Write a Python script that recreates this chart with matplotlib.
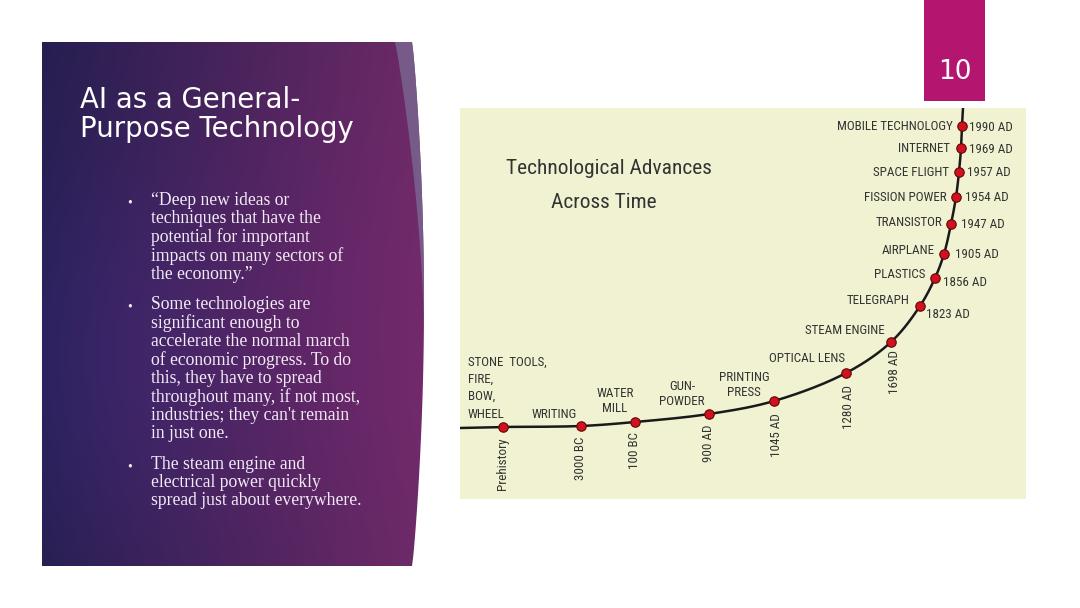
import numpy as np
import matplotlib
matplotlib.use("Agg")
import matplotlib.pyplot as plt
from matplotlib import font_manager as fm
from matplotlib.patches import Rectangle, PathPatch, Polygon
from matplotlib.path import Path

# ---------------- data ----------------
events = ["STONE  TOOLS,\nFIRE,\nBOW,\nWHEEL", "WRITING", "WATER\nMILL", "GUN-\nPOWDER",
          "PRINTING\nPRESS", "OPTICAL LENS", "STEAM ENGINE", "TELEGRAPH", "PLASTICS",
          "AIRPLANE", "TRANSISTOR", "FISSION POWER", "SPACE FLIGHT", "INTERNET",
          "MOBILE TECHNOLOGY"]
eras = ["Prehistory", "3000 BC", "100 BC", "900 AD", "1045 AD", "1280 AD", "1698 AD",
        "1823 AD", "1856 AD", "1905 AD", "1947 AD", "1954 AD", "1957 AD", "1969 AD", "1990 AD"]
# position along the time axis (chart units) and level of advancement (chart units)
time_pos = [43, 121, 175, 249, 314, 386, 431, 460, 475, 484, 491, 496, 499, 501, 502]
advance = [72, 73, 77, 85, 98, 126, 157, 193, 221, 245, 275, 302, 327, 351, 373]
curve_start = (0, 71)
curve_end = (503, 391)

chart_title = "Technological Advances"
chart_subtitle = "Across Time"
slide_title = ["AI as a General-", "Purpose Technology"]
bullets = [
    "\u201cDeep new ideas or\ntechniques that have the\npotential for important\nimpacts on many sectors of\nthe economy.\u201d",
    "Some technologies are\nsignificant enough to\naccelerate the normal march\nof economic progress. To do\nthis, they have to spread\nthroughout many, if not most,\nindustries; they can't remain\nin just one.",
    "The steam engine and\nelectrical power quickly\nspread just about everywhere.",
]
slide_number = "10"

# ---------------- fonts ----------------
ttf = fm.fontManager.ttflist
names = {f.name for f in ttf}
narrow_kw = None
for cand in ["Liberation Sans Narrow", "Arial Narrow", "Roboto Condensed",
             "Open Sans Condensed", "DejaVu Sans Condensed"]:
    if cand in names:
        narrow_kw = dict(family=[cand, "DejaVu Sans"])
        narrow_scale = 1.0
        break
if narrow_kw is None:
    cond = [f for f in ttf if f.name == "DejaVu Sans" and str(f.stretch) in ("condensed", "semi-condensed")]
    if cond:
        narrow_kw = dict(family=["DejaVu Sans"], fontstretch="condensed")
        narrow_scale = 0.93
    else:
        narrow_kw = dict(family=["Liberation Sans", "DejaVu Sans"])
        narrow_scale = 0.86

serif = ["Liberation Serif", "DejaVu Serif"]
title_kw = dict(family=["DejaVu Sans"])

# ---------------- figure ----------------
W, H = 1080, 608
fig = plt.figure(figsize=(W / 100, H / 100), dpi=100)
fig.patch.set_facecolor("white")
bg = fig.add_axes([0, 0, 1, 1])
bg.set_xlim(0, W)
bg.set_ylim(H, 0)
bg.set_axis_off()

# left purple panel with curved right edge
top, bot, left = 42, 566, 42
ys = np.linspace(top, bot, 60)
t = (ys - top) / (bot - top)
xr = 412 + 12 * np.sin(np.pi * t) ** 0.8
verts = [(left, top)] + list(zip(xr, ys)) + [(left, bot), (left, top)]
codes = [Path.MOVETO] + [Path.LINETO] * (len(verts) - 2) + [Path.CLOSEPOLY]
panel_path = Path(verts, codes)
panel_patch = PathPatch(panel_path, facecolor="none", edgecolor="none")
bg.add_patch(panel_patch)

gx, gy = np.meshgrid(np.linspace(0, 1, 300), np.linspace(0, 1, 400))
c_left = np.array([38, 30, 78]) / 255
c_right = np.array([108, 42, 102]) / 255
u = np.clip(gx ** 1.1, 0, 1)
img = c_left[None, None, :] * (1 - u[..., None]) + c_right[None, None, :] * u[..., None]
glow = np.exp(-(((gx - 0.75) / 0.45) ** 2 + ((gy - 0.55) / 0.5) ** 2))
img = img + glow[..., None] * np.array([0.04, 0.0, 0.03])
blue = np.exp(-(((gx - 0.15) / 0.35) ** 2 + ((gy - 0.6) / 0.4) ** 2))
img = img + blue[..., None] * np.array([0.03, 0.02, 0.08])
img = np.clip(img, 0, 1)
im = bg.imshow(img, extent=(left, 430, bot, top), aspect="auto", zorder=1)
im.set_clip_path(panel_patch)

# muted sliver on the right edge of the panel
sl_y = np.linspace(top, 330, 40)
st = (sl_y - top) / (bot - top)
outer = 412 + 12 * np.sin(np.pi * st) ** 0.8
inner = outer - 17 * (1 - (sl_y - top) / (330 - top)) ** 1.3
sl = list(zip(inner, sl_y)) + list(zip(outer[::-1], sl_y[::-1]))
bg.add_patch(Polygon(sl, closed=True, facecolor=(0.47, 0.38, 0.55), alpha=0.9,
                     edgecolor="none", zorder=2))

# slide title and bullets
for line, base in zip(slide_title, [108, 137]):
    bg.text(80, base, line, color="white", fontsize=19.8, va="baseline", ha="left",
            zorder=3, **title_kw)
bullet_tops = [201.5, 305.5, 465.5]
for btop, btxt in zip(bullet_tops, bullets):
    bg.text(127, btop + 1, "\u2022", color="#F2EAF6", fontsize=10, family=serif,
            va="center", ha="left", zorder=3)
    bg.text(151, btop - 9.5, btxt, color="#F2EAF6", fontsize=12.7, family=serif,
            va="top", ha="left", linespacing=1.08, zorder=3)

# slide number box
bg.add_patch(Rectangle((924, 0), 61, 101, facecolor="#B4156F", edgecolor="none", zorder=2))
bg.text(955, 72, slide_number, color="white", fontsize=19, ha="center", va="center",
        zorder=3, **title_kw)

# chart background
cx0, cy0, cw, ch = 460, 108, 566, 391
bg.add_patch(Rectangle((cx0, cy0), cw, ch, facecolor="#F0F2D2", edgecolor="none", zorder=1))

ax = fig.add_axes([cx0 / W, (H - cy0 - ch) / H, cw / W, ch / H])
ax.set_xlim(0, cw)
ax.set_ylim(0, ch)
ax.set_axis_off()


def catmull_rom(P, n=25, alpha=0.5):
    P = np.asarray(P, float)
    P = np.vstack([2 * P[0] - P[1], P, 2 * P[-1] - P[-2]])
    out = []
    for i in range(len(P) - 3):
        p0, p1, p2, p3 = P[i:i + 4]
        t0 = 0.0
        t1 = t0 + np.linalg.norm(p1 - p0) ** alpha
        t2 = t1 + np.linalg.norm(p2 - p1) ** alpha
        t3 = t2 + np.linalg.norm(p3 - p2) ** alpha
        tt = np.linspace(t1, t2, n)[:, None]
        A1 = (t1 - tt) / (t1 - t0) * p0 + (tt - t0) / (t1 - t0) * p1
        A2 = (t2 - tt) / (t2 - t1) * p1 + (tt - t1) / (t2 - t1) * p2
        A3 = (t3 - tt) / (t3 - t2) * p2 + (tt - t2) / (t3 - t2) * p3
        B1 = (t2 - tt) / (t2 - t0) * A1 + (tt - t0) / (t2 - t0) * A2
        B2 = (t3 - tt) / (t3 - t1) * A2 + (tt - t1) / (t3 - t1) * A3
        C = (t2 - tt) / (t2 - t1) * B1 + (tt - t1) / (t2 - t1) * B2
        out.append(C)
    return np.vstack(out)


pts = [curve_start] + list(zip(time_pos, advance)) + [curve_end]
curve = catmull_rom(pts)
ax.plot(curve[:, 0], curve[:, 1], color="#1A1A1A", lw=1.8, solid_capstyle="butt",
        zorder=2, clip_on=False)
ax.plot(time_pos, advance, "o", color="#D40F1E", markeredgecolor="#5A0A0A",
        markeredgewidth=0.8, markersize=6.8, zorder=3, clip_on=False)

label_color = "#333333"
fs = 9.4 * narrow_scale
k = 0.72  # pixel -> point offset
# event label placements: (dx px, dy px up, ha, va)
ev_place = [(-35, 13, "left", "center"), (-27, 12, "center", "center"),
            (-20, 21, "center", "center"), (-27, 20, "center", "center"),
            (-30, 16, "center", "center"), (-39, 15, "center", "center"),
            (-46, 12, "center", "center"), (-42, 6, "center", "center"),
            (-10, 3, "right", "center"), (-9, 4, "right", "center"),
            (-9, 2, "right", "center"), (-9, 0, "right", "center"),
            (-10, 0, "right", "center"), (-11, 0, "right", "center"),
            (-9, 0, "right", "center")]
ls_list = [1, 1, 1.25, 1.25, 1.2] + [1] * 10
for i, (name, (dx, dy, ha, va)) in enumerate(zip(events, ev_place)):
    if i == 0:
        # multi-line list: one text per line so each line keeps its own box
        for j, part in enumerate(name.split("\n")[::-1]):
            ax.annotate(part, xy=(time_pos[i], advance[i]),
                        xytext=(dx * k, (dy + 17.3 * j) * k),
                        textcoords="offset points", ha=ha, va=va, fontsize=fs,
                        color=label_color, zorder=4, **narrow_kw)
        continue
    ax.annotate(name, xy=(time_pos[i], advance[i]), xytext=(dx * k, dy * k),
                textcoords="offset points", ha=ha, va=va, fontsize=fs,
                color=label_color, linespacing=ls_list[i],
                multialignment="center", zorder=4, **narrow_kw)

# era labels: first 7 rotated below the curve, the rest to the right
rot_place = [(0, -10), (0, -11), (0, -10), (0, -11), (2, -12), (2, -12), (4, -8)]
right_place = [(6, -9), (8, -5), (11, 0), (10, 0), (9, 0), (8, 0), (8, -1), (7, -1)]
for i, era in enumerate(eras):
    if i < 7:
        dx, dy = rot_place[i]
        ax.annotate(era, xy=(time_pos[i], advance[i]), xytext=(dx * k, dy * k),
                    textcoords="offset points", ha="center", va="top", rotation=90,
                    fontsize=fs, color=label_color, zorder=4, **narrow_kw)
    else:
        dx, dy = right_place[i - 7]
        ax.annotate(era, xy=(time_pos[i], advance[i]), xytext=(dx * k, dy * k),
                    textcoords="offset points", ha="left", va="center",
                    fontsize=fs, color=label_color, zorder=4, **narrow_kw)

ax.text(609 - cx0, 499 - 168, chart_title, ha="center", va="center",
        fontsize=15.4 * narrow_scale, color="#333333", **narrow_kw)
ax.text(604 - cx0, 499 - 202, chart_subtitle, ha="center", va="center",
        fontsize=15.4 * narrow_scale, color="#333333", **narrow_kw)

fig.savefig("out.png", dpi=100)
